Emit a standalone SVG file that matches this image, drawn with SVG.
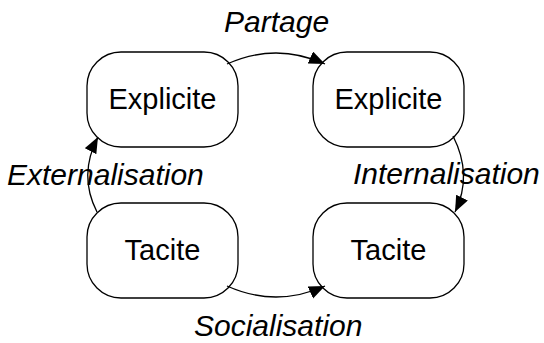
<svg xmlns="http://www.w3.org/2000/svg" width="544" height="343" viewBox="0 0 544 343">
  <style>
    .box { fill: #ffffff; stroke: #000000; stroke-width: 1.3; }
    .node-text { font-family: "Liberation Sans", Arial, sans-serif; font-size: 29px; fill: #000000; text-anchor: middle; }
    .label { font-family: "Liberation Sans", Arial, sans-serif; font-size: 30px; font-style: italic; fill: #000000; }
    .arc { fill: none; stroke: #000000; stroke-width: 1.3; marker-end: url(#arrow); }
  </style>
  <defs>
    <marker id="arrow" markerUnits="userSpaceOnUse" markerWidth="18" markerHeight="14" refX="16" refY="6.5" orient="auto">
      <path d="M0,0 L16,6.5 L0,13 Z" fill="#000000"/>
    </marker>
  </defs>

  <rect width="544" height="343" fill="#ffffff"/>

  <!-- knowledge states -->
  <g id="explicite-left">
    <rect class="box" x="87" y="52" width="151" height="95" rx="34" ry="34"/>
    <text class="node-text" x="162.5" y="108.5">Explicite</text>
  </g>
  <g id="explicite-right">
    <rect class="box" x="313" y="52" width="151" height="95" rx="34" ry="34"/>
    <text class="node-text" x="388.5" y="108.5">Explicite</text>
  </g>
  <g id="tacite-left">
    <rect class="box" x="87" y="203" width="151" height="95" rx="34" ry="34"/>
    <text class="node-text" x="162.5" y="260">Tacite</text>
  </g>
  <g id="tacite-right">
    <rect class="box" x="313" y="203" width="151" height="95" rx="34" ry="34"/>
    <text class="node-text" x="388.5" y="260">Tacite</text>
  </g>

  <!-- conversion cycle -->
  <g id="connectors">
    <path class="arc" d="M227,64 Q276,42 325,64"/>
    <path class="arc" d="M453,136 Q473,175 455,212"/>
    <path class="arc" d="M227,286 Q276,308 325,286"/>
    <path class="arc" d="M97,212 Q78,175 98,137"/>
  </g>

  <g id="labels">
    <text class="label" x="224" y="31.5">Partage</text>
    <text class="label" x="353" y="184">Internalisation</text>
    <text class="label" x="194" y="336">Socialisation</text>
    <text class="label" x="7" y="185">Externalisation</text>
  </g>
</svg>
